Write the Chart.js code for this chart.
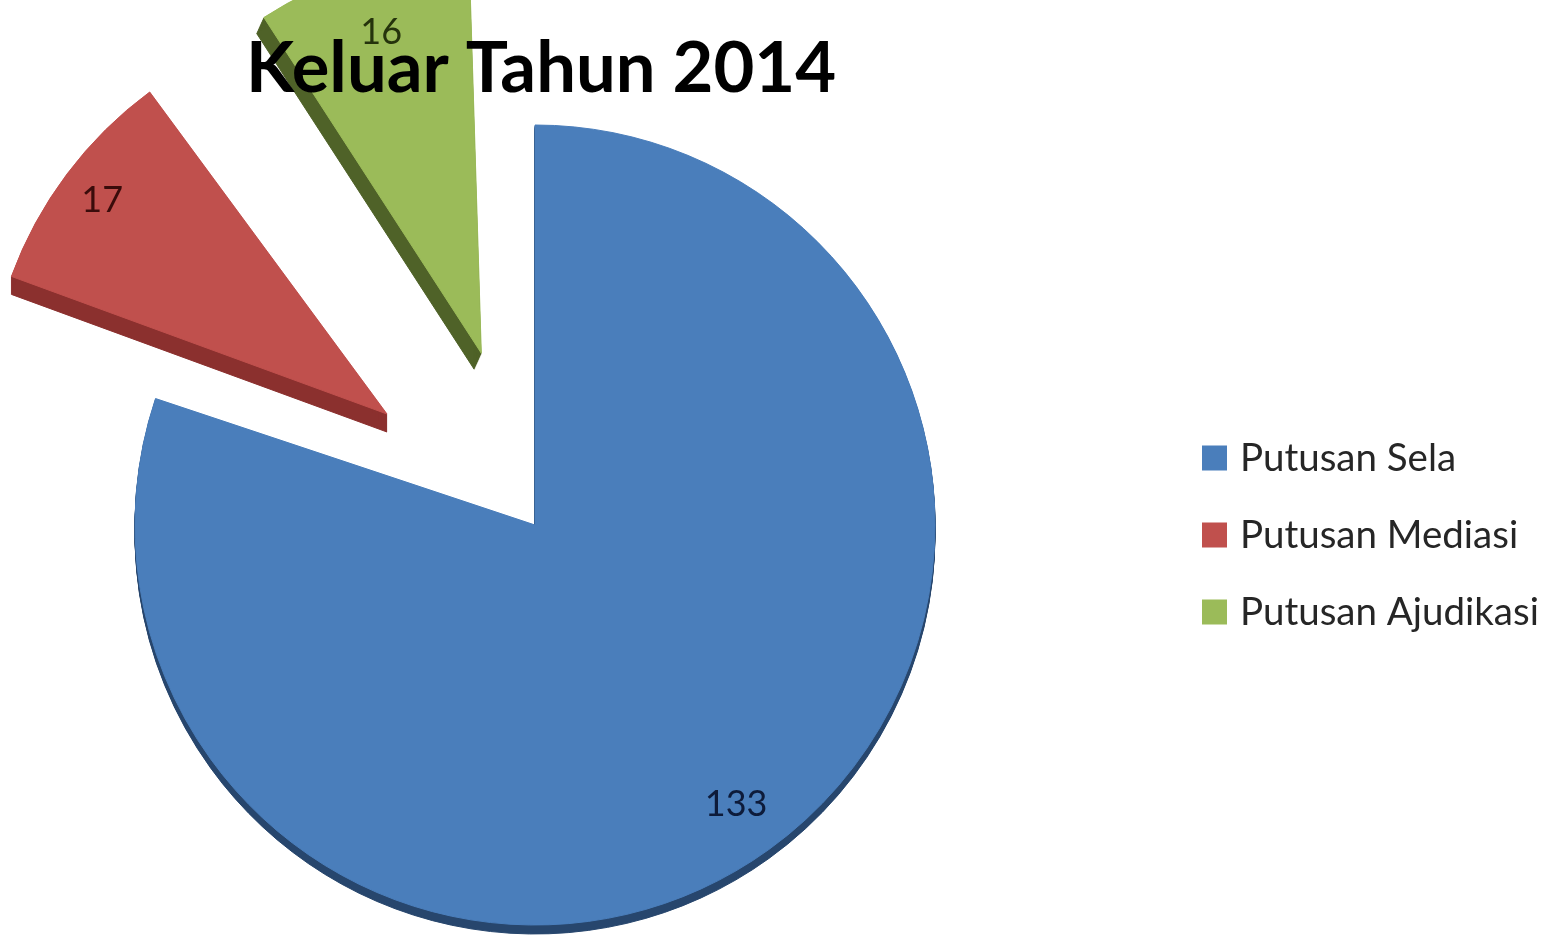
<!DOCTYPE html>
<html>
<head>
<meta charset="utf-8">
<script src="https://cdn.jsdelivr.net/npm/chart.js@4/dist/chart.umd.min.js"></script>
<style>
html,body{margin:0;padding:0;background:#fff;}
#wrap{position:relative;width:1564px;height:940px;overflow:hidden;}
</style>
</head>
<body>
<div id="wrap"><canvas id="c" width="1564" height="940"></canvas></div>
<script>
// ---- data ----
const titleText = 'Keluar Tahun 2014';
const categories = ['Putusan Sela', 'Putusan Mediasi', 'Putusan Ajudikasi'];
const values = [133, 17, 16];
const colors = ['#4a7ebb', '#c0504d', '#9bbb59'];
const sideColors = ['#27466d', '#8b302e', '#4f6228'];
const labelColors = ['#0d1b3a', '#3a0c0b', '#25330c'];
const explodeOffsets = [0, 740, 720];

// Chart.js v4 arc: translation = offset/4, radius grows by (offset/4)*fix
function arcGeom(el) {
  const T = (el.options && el.options.offset || 0) / 4;
  const h = (el.startAngle + el.endAngle) / 2;
  const fix = 1 - Math.sin(Math.min(Math.PI, el.circumference || 0));
  return {
    cx: el.x + Math.cos(h) * T,
    cy: el.y + Math.sin(h) * T,
    R: el.outerRadius + T * fix,
    h
  };
}

const keepRadius = {
  id: 'keepRadius',
  afterDatasetUpdate(chart, args) {
    const meta = chart.getDatasetMeta(args.index);
    meta.data.forEach(el => {
      const T = (el.options && el.options.offset || 0) / 4;
      const fix = 1 - Math.sin(Math.min(Math.PI, el.circumference || 0));
      el.outerRadius = el.outerRadius - T * fix;
    });
  }
};

// darker extruded side of each slice: the library's own arc drawn again, shifted
const depthSteps = [9, 18, 16];
const depthSlant = [0, 0, -0.45];
const depthPlugin = {
  id: 'depth',
  beforeDatasetsDraw(chart) {
    const ctx = chart.ctx;
    const meta = chart.getDatasetMeta(0);
    meta.data.forEach((el, i) => {
      const fake = Object.create(el);
      fake.options = Object.assign({}, el.options, {
        backgroundColor: sideColors[i],
        borderColor: sideColors[i]
      });
      for (let d = 1; d <= depthSteps[i]; d++) {
        ctx.save();
        ctx.translate(d * depthSlant[i], d);
        el.draw.call(fake, ctx);
        ctx.restore();
      }
    });
  }
};

const labelRatios = [0.86, 0.89, 0.84];
const labelPlugin = {
  id: 'valueLabels',
  afterDatasetsDraw(chart) {
    const ctx = chart.ctx;
    const meta = chart.getDatasetMeta(0);
    const ds = chart.data.datasets[0];
    ctx.save();
    ctx.font = '36px Lato';
    ctx.textAlign = 'center';
    ctx.textBaseline = 'middle';
    meta.data.forEach((el, i) => {
      const g = arcGeom(el);
      const r = g.R * labelRatios[i];
      ctx.fillStyle = labelColors[i];
      ctx.fillText(String(ds.data[i]), g.cx + Math.cos(g.h) * r, g.cy + Math.sin(g.h) * r);
    });
    ctx.restore();
  }
};

const titleLegendPlugin = {
  id: 'titleLegend',
  afterDraw(chart) {
    const ctx = chart.ctx;
    ctx.save();
    // title
    ctx.font = 'bold 68px Lato';
    const w = ctx.measureText(titleText).width;
    const size = 68 * 590 / w;
    ctx.font = 'bold ' + size.toFixed(1) + 'px Lato';
    ctx.fillStyle = '#000';
    ctx.textAlign = 'left';
    ctx.textBaseline = 'alphabetic';
    ctx.fillText(titleText, 246, 92);
    // legend
    ctx.font = '38.5px Lato';
    ctx.textBaseline = 'middle';
    chart.data.labels.forEach((lab, i) => {
      const yc = 458 + i * 77;
      ctx.fillStyle = colors[i];
      ctx.fillRect(1202, yc - 12.5, 25, 25);
      ctx.fillStyle = '#262626';
      ctx.fillText(lab, 1240, yc + 1);
    });
    ctx.restore();
  }
};

new Chart(document.getElementById('c'), {
  type: 'pie',
  data: {
    labels: categories,
    datasets: [{
      data: values,
      backgroundColor: colors,
      borderColor: colors,
      borderWidth: 1,
      offset: explodeOffsets,
      clip: false
    }]
  },
  options: {
    responsive: false,
    animation: false,
    radius: 400,
    layout: { padding: { left: 0, top: 110, right: 494, bottom: 0 } },
    plugins: {
      legend: { display: false },
      tooltip: { enabled: false }
    },
    events: []
  },
  plugins: [keepRadius, depthPlugin, labelPlugin, titleLegendPlugin]
});
</script>
</body>
</html>
